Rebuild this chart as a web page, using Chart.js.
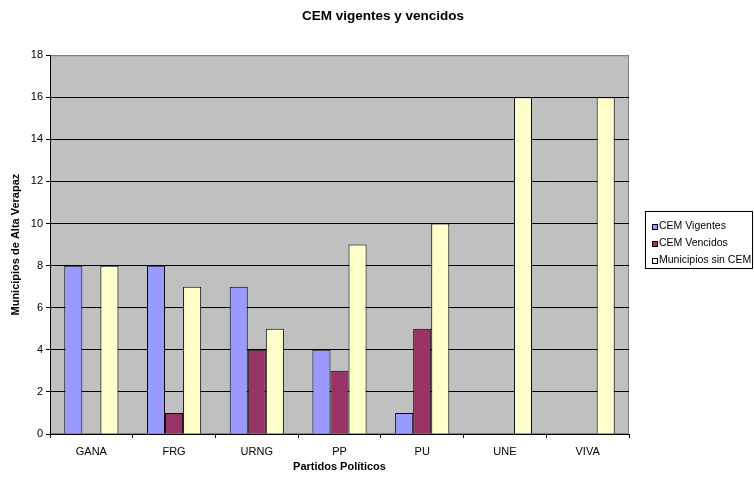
<!DOCTYPE html>
<html>
<head>
<meta charset="utf-8">
<script src="https://cdn.jsdelivr.net/npm/chart.js@4.4.1/dist/chart.umd.min.js"></script>
<style>
  html, body { margin: 0; padding: 0; background: #fff; }
  #wrap { width: 754px; height: 477px; }
</style>
</head>
<body>
<div id="wrap"><canvas id="cemChart" width="754" height="477"></canvas></div>
<script>
// partidos y conteo de municipios
const partidos = ["GANA", "FRG", "URNG", "PP", "PU", "UNE", "VIVA"];
const cemVigentes = [8, 8, 7, 4, 1, 0, 0];
const cemVencidos = [0, 1, 4, 3, 5, 0, 0];
const sinCem = [8, 7, 5, 9, 10, 16, 16];
const yTicks = [0, 2, 4, 6, 8, 10, 12, 14, 16, 18];

const FONT = "'Liberation Sans', Arial, sans-serif";

// fondo gris del área de trazado con borde
const plotBackground = {
  id: "plotBackground",
  beforeDraw(chart) {
    const { ctx, chartArea: a } = chart;
    ctx.save();
    ctx.fillStyle = "#C0C0C0";
    ctx.fillRect(a.left, a.top, a.right - a.left, a.bottom - a.top);
    ctx.strokeStyle = "#808080";
    ctx.lineWidth = 1;
    ctx.strokeRect(a.left + 0.5, a.top + 0.5, a.right - a.left - 1, a.bottom - a.top - 1);
    ctx.restore();
  }
};

// leyenda con recuadro a la derecha
const boxedLegend = {
  id: "boxedLegend",
  afterDraw(chart) {
    const { ctx } = chart;
    const x0 = 645, y0 = 211, w = 108, h = 58;
    ctx.save();
    ctx.fillStyle = "#fff";
    ctx.fillRect(x0, y0, w, h);
    ctx.strokeStyle = "#000";
    ctx.lineWidth = 1;
    ctx.strokeRect(x0 + 0.5, y0 + 0.5, w - 1, h - 1);
    ctx.font = "10.5px " + FONT;
    ctx.textBaseline = "middle";
    chart.data.datasets.forEach((ds, i) => {
      const cy = 226.5 + i * 17;
      ctx.fillStyle = ds.backgroundColor;
      ctx.fillRect(652, Math.round(cy) - 3, 6, 6);
      ctx.strokeStyle = "#000";
      ctx.strokeRect(652.5, Math.round(cy) - 2.5, 5, 5);
      ctx.fillStyle = "#000";
      ctx.fillText(ds.label, 659, cy);
    });
    ctx.restore();
  }
};

const barStyle = { borderColor: "#000", borderWidth: 1, borderSkipped: "start" };

new Chart(document.getElementById("cemChart"), {
  type: "bar",
  data: {
    labels: partidos,
    datasets: [
      { label: "CEM Vigentes", data: cemVigentes, backgroundColor: "#9999FF", ...barStyle },
      { label: "CEM Vencidos", data: cemVencidos, backgroundColor: "#993366", ...barStyle },
      { label: "Municipios sin CEM", data: sinCem, backgroundColor: "#FFFFCC", ...barStyle }
    ]
  },
  options: {
    responsive: false,
    animation: false,
    devicePixelRatio: 1,
    layout: { padding: { left: 12, right: 0, top: 0, bottom: 0 } },
    datasets: { bar: { categoryPercentage: 0.655, barPercentage: 1 } },
    plugins: {
      legend: { display: false },
      tooltip: { enabled: false },
      title: {
        display: true,
        text: "CEM vigentes y vencidos",
        color: "#000",
        font: { family: FONT, size: 13.5, weight: "bold" },
        padding: { top: 8, bottom: 31 }
      }
    },
    scales: {
      x: {
        offset: true,
        grid: { display: true, offset: true, drawOnChartArea: false, drawTicks: true, tickLength: 4, color: "#000" },
        border: { color: "#000", width: 1 },
        ticks: { color: "#000", font: { family: FONT, size: 11 }, padding: 7, maxRotation: 0 },
        title: {
          display: true,
          text: "Partidos Políticos",
          color: "#000",
          font: { family: FONT, size: 11, weight: "bold" },
          padding: { top: 0, bottom: 3 }
        },
        afterFit(scale) { scale.height = 43; }
      },
      y: {
        min: 0,
        max: 18,
        afterBuildTicks(scale) { scale.ticks = yTicks.map(v => ({ value: v })); },
        grid: {
          color: ctx => (ctx.tick && ctx.tick.value === 18 ? "#808080" : "#000"),
          tickColor: "#000",
          tickLength: 4,
          lineWidth: 1
        },
        border: { color: "#000", width: 1 },
        ticks: { color: "#000", font: { family: FONT, size: 11 }, padding: 3 },
        title: {
          display: true,
          text: "Municipios de Alta Verapaz",
          color: "#000",
          font: { family: FONT, size: 11, weight: "bold" },
          padding: { top: -2.5, bottom: 0 }
        },
        afterFit(scale) { scale.width = 38; }
      },
      // columna vacía a la derecha donde va la leyenda
      legendSpace: {
        type: "linear",
        position: "right",
        display: true,
        grid: { display: false, drawTicks: false },
        border: { display: false },
        ticks: { display: false },
        afterFit(scale) { scale.width = 125; }
      }
    }
  },
  plugins: [plotBackground, boxedLegend]
});
</script>
</body>
</html>
